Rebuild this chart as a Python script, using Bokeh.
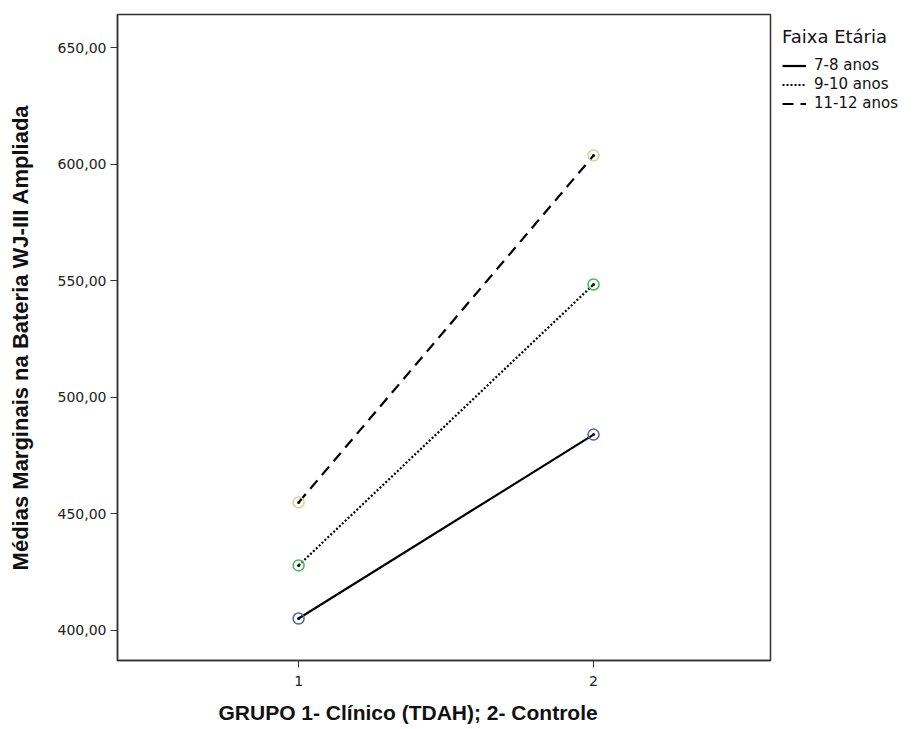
from bokeh.plotting import figure
from bokeh.models import FixedTicker, Legend, LegendItem, Range1d, Title
from bokeh.embed import file_html
from bokeh.resources import INLINE

groups = [1, 2]
age_labels = ["7-8 anos", "9-10 anos", "11-12 anos"]
means_7_8 = [405.1, 484.0]
means_9_10 = [427.9, 548.4]
means_11_12 = [454.9, 603.7]
y_ticks = [400, 450, 500, 550, 600, 650]

series = [means_7_8, means_9_10, means_11_12]
marker_colors = ["#4a63b5", "#3cbf4e", "#d6d09c"]
dashes = ["solid", "2 2", "11 7"]

p = figure(frame_width=653, frame_height=646, output_backend="svg", toolbar_location=None,
           x_range=Range1d(0.386, 2.6), y_range=Range1d(387.1, 664.2),
           min_border_left=117, min_border_right=0, min_border_top=14,
           min_border_bottom=69)

p.xgrid.visible = False
p.ygrid.visible = False
p.outline_line_color = "#333333"
p.outline_line_width = 1.5
p.background_fill_color = "white"
p.border_fill_color = "white"

font = "Liberation Sans"
tick_font = "DejaVu Sans"
p.yaxis.ticker = FixedTicker(ticks=y_ticks)
p.yaxis.major_label_overrides = {t: f"{t},00" for t in y_ticks}
p.xaxis.ticker = FixedTicker(ticks=groups)
for ax in (p.xaxis[0], p.yaxis[0]):
    ax.minor_tick_line_color = None
    ax.major_tick_in = 0
    ax.major_tick_out = 7
    ax.major_tick_line_color = "#333333"
    ax.axis_line_color = "#333333"
    ax.axis_line_width = 1.5
    ax.major_label_text_font = tick_font
    ax.major_label_text_font_size = "14px"
    ax.major_label_text_color = "#222222"
    ax.axis_label_text_font = font
    ax.axis_label_text_font_style = "bold"
    ax.axis_label_text_color = "#111111"

p.yaxis.axis_label = "Médias Marginais na Bateria WJ-III Ampliada"
p.yaxis.axis_label_text_font_size = "22px"
p.xaxis.major_label_standoff = 8
p.yaxis.major_label_standoff = 4
p.yaxis.axis_label_standoff = 22

xlabel = Title(text="GRUPO  1- Clínico (TDAH); 2- Controle", align="left",
               offset=101, text_font=font, text_font_style="bold",
               text_font_size="21px", text_color="#111111", standoff=20)
p.add_layout(xlabel, "below")

items = []
for vals, col, dash, lab in zip(series, marker_colors, dashes, age_labels):
    r = p.line(groups, vals, line_color="black", line_width=2.2, line_dash=dash)
    p.scatter(groups, vals, marker="circle", size=11, fill_color=None,
              line_color=col, line_width=1.5)
    p.scatter(groups, vals, marker="circle", size=3, fill_color="black",
              line_color=None)
    items.append(LegendItem(label=lab, renderers=[r]))

legend = Legend(items=items, title="Faixa Etária", location="top_left",
                border_line_alpha=0, background_fill_alpha=0,
                label_text_font=tick_font, label_text_font_size="15px",
                label_text_color="#111111",
                title_text_font=tick_font, title_text_font_size="18px",
                title_text_font_style="normal", title_text_color="#111111",
                title_standoff=9,
                glyph_width=24, glyph_height=15, label_standoff=8,
                spacing=1, padding=4, margin=8)
p.add_layout(legend, "right")

open("out.html", "w").write(file_html(p, INLINE))
